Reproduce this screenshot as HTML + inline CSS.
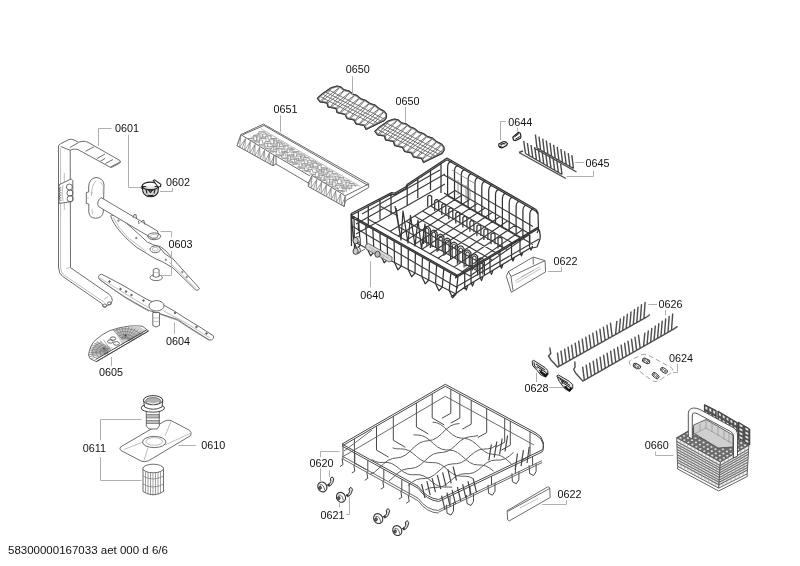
<!DOCTYPE html>
<html><head><meta charset="utf-8"><style>
html,body{margin:0;padding:0;background:#fff;width:800px;height:566px;overflow:hidden}
svg{display:block}
.tx{will-change:transform;opacity:.999}
text{font-family:"Liberation Sans",sans-serif;font-size:10.8px;fill:#111}
.L{fill:none;stroke:#b0b0b0;stroke-width:1}
.o,.o *{fill:none;stroke:#5c5c5c;stroke-width:.9}
.o .f{fill:#fff}
.o .d,.d{stroke:#a4a4a4;stroke-width:.7}
.w path{fill:none;stroke:#3a3a3a;stroke-width:1}
.w2 path{fill:none;stroke:#555;stroke-width:.9}
.wl path{fill:none;stroke:#6a6a6a;stroke-width:.8}
.uw path{fill:none;stroke:#333;stroke-width:1.25;stroke-linejoin:round}
.um path{fill:none;stroke:#3c3c3c;stroke-width:1.15}
.ul path{fill:none;stroke:#777;stroke-width:.8}
.lw path{fill:none;stroke:#4a4a4a;stroke-width:1;stroke-linejoin:round}
.lm path{fill:none;stroke:#5a5a5a;stroke-width:.9}
.ll path{fill:none;stroke:#5e5e5e;stroke-width:1}
.lt path{fill:none;stroke:#444;stroke-width:1.2}
.o .dk{stroke:#4a4a4a;stroke-width:.8}
.o .mk{stroke:#777;stroke-width:.7}
.o .mesh{stroke:#999;stroke-width:.6}
.o .mesh2{stroke:#8a8a8a;stroke-width:.7}
.tn path{fill:none;stroke:#4a4a4a;stroke-width:1.4}
.tn2 path{fill:none;stroke:#505050;stroke-width:1.45;stroke-linecap:round}
.r path{stroke:#454545;stroke-width:1}
</style></head><body>
<svg width="800" height="566" viewBox="0 0 800 566">

<!-- 0601 pipe -->
<g class="o">
<path class="f" d="M58.5,268 L58.5,146 Q59,144.5 60.5,143.8 L69,139.5 Q71.5,138.8 74,140 L78.5,142.2 Q82,141 85.5,141.4 L88,142.3 L120,160.6 Q121,162 119.5,163.3 L111.5,167.4 L110.2,167.2 L78,149.6 Q75,148.9 73,149.2 L70.2,150.2 L70.5,267.7 L109,294.2 Q112.5,297 112.3,300.5 L110.5,304 L107,305.5 Q105.5,308 103,306.5 L101.8,303.5 L62.4,276.2 Q58.7,273.5 58.7,268 Z"/>
<path d="M60.6,146.5 L70.2,150.2 M69.8,147.6 L78.5,142.6 M85.5,151.3 L94,146.8 M97,158.5 L105,154 M100.5,161 L105,158.5 M105.5,163.5 L113,159.5 M110.5,167 L120.5,161.8"/>
<path class="d" d="M60.6,148 L60.6,268 Q60.8,272.5 64,275 L104.5,302.5 M64.3,173 L64.3,210 M70.2,267.5 L66,268.5"/>
<!-- clip on pipe -->
<path class="f" d="M59,184.8 L71.2,179 L72.8,180.5 L72.8,200.5 Q72,202.5 70.1,201.8 L59,203.4 Z"/>
<circle cx="69.4" cy="187" r="3"/><circle cx="69.9" cy="193" r="3"/><circle cx="70.1" cy="198.7" r="3"/><path d="M59.5,188 L59.5,200 M60.8,187 L60.8,201" style="stroke:#555;stroke-width:.8;stroke-dasharray:1.5 1"/><path class="d" d="M63,185 Q61.5,192 63,201"/>
<ellipse cx="104.8" cy="305.6" rx="1.9" ry="1.6"/><ellipse cx="109.4" cy="303.4" rx="1.9" ry="1.6"/><path d="M104,299.5 L108,296.5" class="d"/>
</g>
<!-- 0603 bracket and feed tube -->
<g class="o">
<path class="f" d="M88.6,187 Q89,178.5 96,177.5 Q103,178 104,184.5 L103.3,212 Q102.5,218 95.5,218.3 Q89.3,218 88.8,212 L88.8,204 L86.3,203.5 L86.3,192.5 L88.7,192 Z"/>
<path class="d" d="M91.5,196 Q91.5,184 96.5,180.5 M92,209 L92.5,214.5 M86.3,198 L89,198 M100.5,182 L103.5,186 L103,194 M90.5,193 L93,193"/>
<!-- 0603 upper spray arm blade -->
<path class="f" d="M110.8,215.6 C112,222 120,234 136.8,247.4 L150.6,255.9 Q156,259.5 162,261.5 L172.8,267.8 L195.7,290 Q198.5,291 199.5,288.5 L166,251 Q163,248.5 160,246.5 L153.8,245 L147.4,242.1 Q130,226 122,219.3 Q116,214.5 111.4,215.1 Z"/>
<path class="d" d="M113,217 Q118,228 128,237.5 L146,251.5 M169,262 L196,288.5"/>
<circle cx="118.4" cy="220.6" r=".7"/><circle cx="136.3" cy="238" r=".7"/><circle cx="165.8" cy="259.8" r=".7"/><circle cx="182.3" cy="272" r=".7"/><circle cx="186.8" cy="277" r=".7"/>
<path class="f" d="M101,197.5 L157.5,231 Q160,235 156.5,238 Q152,239.5 149,236.5 L98.5,206.5 Q96,202 101,197.5 Z"/>
<ellipse cx="154.2" cy="236.3" rx="6.5" ry="3.4"/>
<ellipse cx="154.2" cy="236.3" rx="3.7" ry="1.9" class="d"/>
<path d="M133,217.5 Q133.5,213.5 136,214.5 L136.5,218.5 M141,222.5 Q142,219.5 144,220.5 L144.5,224.5 M138.5,221 L139,224"/>
<ellipse cx="155.2" cy="249.3" rx="5.2" ry="3.4" class="f"/>
<ellipse cx="155.2" cy="249.1" rx="3" ry="1.8" class="d"/>
<path d="M160.5,249 Q163,250.5 164,253 L171,258"/>
<!-- nozzle -->
<ellipse cx="156.2" cy="277.6" rx="6.2" ry="3" class="f"/>
<path class="f" d="M153.3,276.5 L153.3,269.5 Q156.2,267 159.1,269.5 L159.1,276.5 Q156.2,278 153.3,276.5 Z"/>
<path class="d" d="M153.3,272 Q156.2,273.5 159.1,272"/>
</g>
<!-- 0602 ring -->
<g class="o">
<path d="M142.3,186.5 L143,192 Q145,196.8 150.5,196.8 Q156.5,196.5 158,192 L158.5,186.5 Z" style="fill:#d8d8d8;stroke:#222;stroke-width:1.1"/>
<path d="M146,189.5 L147,193.5 M155,189.5 L154,193.5 M148.5,190 L152.5,190 L150.5,192.5 Z M147.5,195 Q150.5,196.2 153.5,195" style="stroke:#222;stroke-width:1.1"/>
<ellipse cx="150.4" cy="186" rx="8.2" ry="3.9" style="fill:none;stroke:#222;stroke-width:1.3"/>
<ellipse cx="150.4" cy="185.8" rx="5" ry="1.4" style="fill:#fff;stroke:none"/>
<path d="M153.3,180.5 L154.5,179.8 L160.8,184.2 L160.5,186.5 L158,187 Z" style="fill:#fff;stroke:#222;stroke-width:1.1"/>
<path d="M140.3,187.5 L142.5,186 L143,189 Z" style="fill:#222;stroke:#222"/>
</g>
<!-- 0604 lower spray arm -->
<g class="o">
<path class="f" d="M98.5,276.5 Q99.5,274 101.8,274.3 Q115,281 125,286.5 Q138,294.5 149,300.5 L164,305.3 Q175,311 185,318 Q200,327 213.5,335.8 Q214.5,338.5 211.5,340 L209,339.8 Q193,330 177.5,319.5 L159.5,313.5 L149,310.5 Q137,304 125,297 Q110,287.5 99,279 Z"/>
<path class="d" d="M100,278 Q112,285.5 125,293.5 Q137,301 148.5,307.5 M163,310.5 Q186,322 210,338"/>
<path d="M99.5,279.5 Q112,288.5 125,297.5 Q137,305 149,311.3 M160,314.3 L177.5,320.3 Q193,331 209.5,340.5" style="stroke:#777;stroke-width:.7"/>
<ellipse cx="156.5" cy="305.8" rx="7.6" ry="5.2" class="f"/>
<circle cx="109.5" cy="281.5" r=".8" style="fill:#555"/><circle cx="120.5" cy="289" r=".8" style="fill:#555"/><circle cx="126" cy="291.5" r=".8" style="fill:#555"/><circle cx="131.5" cy="295" r=".8" style="fill:#555"/><circle cx="143.5" cy="300.5" r=".8" style="fill:#555"/><circle cx="175" cy="313" r=".8" style="fill:#555"/><circle cx="196.5" cy="327" r=".8" style="fill:#555"/><circle cx="206.5" cy="333.5" r=".8" style="fill:#555"/>
<path class="f" d="M152.8,312.5 L152.8,325.5 Q156,328.5 159.5,325.5 L159.5,312.5 Z"/>
<path class="d" d="M152.8,317.5 Q156,319 159.5,317.5 M152.8,321 Q156,322.5 159.5,321"/>
</g>
<!-- 0605 filter plate -->
<g class="o">
<path class="f" d="M88.5,355 Q90,345 95.5,340 Q102,334 110,330.5 Q120,327 130,326 Q140,325.5 143,326.6 L148.5,331 L96.4,361.6 L90.2,358.8 Z"/>
<path d="M91,356 Q92,346 97,341 L113,348 Z M114,330 Q125,326.5 139,326.5 L146,330.5 L122,344.5 Z" style="fill:#cfcfcf;stroke:none"/>
<clipPath id="c605"><path d="M88.5,355 Q90,345 95.5,340 Q102,334 110,330.5 Q120,327 130,326 Q140,325.5 143,326.6 L148.5,331 L96.4,361.6 L90.2,358.8 Z"/></clipPath><path clip-path="url(#c605)" d="M108.5,353.1 L91.2,358.6 M108.3,352.8 L89.6,356.7 M108.1,352.5 L88.5,354.7 M108.0,352.1 L88.0,352.7 M108.0,351.8 L88.1,350.6 M108.1,351.4 L88.8,348.6 M108.3,351.1 L90.1,346.6 M108.6,350.8 L91.9,344.8 M109.0,350.5 L94.2,343.2 M109.5,350.3 L96.9,341.7 M110.0,350.1 L100.0,340.6 M110.6,349.9 L103.4,339.7 M105.1,354.2 L104.5,353.5 L104.1,352.8 L104.0,352.0 L104.1,351.2 L104.5,350.5 L105.1,349.8 L105.9,349.2 L106.9,348.6 L108.0,348.2 M101.6,355.3 L100.7,354.3 L100.2,353.1 L100.0,352.0 L100.2,350.9 L100.7,349.7 L101.6,348.7 L102.8,347.8 L104.3,346.9 L106.0,346.3 M98.1,356.4 L97.0,355.0 L96.2,353.5 L96.0,352.0 L96.2,350.5 L97.0,349.0 L98.1,347.6 L99.7,346.3 L101.7,345.3 L104.0,344.4 M94.7,357.5 L93.2,355.8 L92.3,353.9 L92.0,352.0 L92.3,350.1 L93.2,348.2 L94.7,346.5 L96.7,344.9 L99.1,343.6 L102.0,342.5 M122.7,339.7 L112.4,329.4 M123.2,339.5 L115.4,328.2 M123.8,339.3 L118.6,327.3 M124.4,339.2 L121.9,326.7 M125.1,339.2 L125.4,326.6 M125.7,339.2 L128.8,326.8 M126.3,339.4 L132.2,327.4 M126.9,339.5 L135.3,328.4 M127.4,339.8 L138.2,329.7 M127.9,340.1 L140.8,331.3 M128.3,340.4 L143.0,333.2 M128.6,340.8 L144.8,335.2 M121.0,338.0 L122.0,337.6 L123.2,337.3 L124.4,337.1 L125.6,337.1 L126.8,337.3 L128.0,337.6 L129.0,338.0 L129.9,338.5 L130.7,339.2 M118.7,335.7 L120.4,335.0 L122.2,334.6 L124.0,334.3 L126.0,334.3 L127.8,334.6 L129.6,335.0 L131.3,335.7 L132.8,336.6 L134.0,337.6 M116.4,333.4 L118.7,332.5 L121.1,331.9 L123.7,331.5 L126.3,331.5 L128.9,331.9 L131.3,332.5 L133.6,333.4 L135.6,334.6 L137.3,336.0 M114.1,331.1 L117.0,329.9 L120.1,329.2 L123.3,328.8 L126.7,328.8 L129.9,329.2 L133.0,329.9 L135.9,331.1 L138.4,332.6 L140.6,334.4" style="stroke:#6a6a6a;stroke-width:.6"/>
<path d="M96.4,361.6 L148.5,331 M95.5,359.5 L146.8,329.8" style="stroke:#444;stroke-width:1"/>
<ellipse cx="113" cy="338.6" rx="2.8" ry="1.7"/><ellipse cx="110.3" cy="341.5" rx="2.8" ry="1.7"/><ellipse cx="116.4" cy="343.4" rx="3" ry="1.8"/>
<circle cx="104" cy="348.5" r=".8" style="fill:#333"/><circle cx="125.5" cy="335.5" r=".8" style="fill:#333"/>
</g>
<g class="lw"><path d="M418.0,486.2 L342.0,444.0 L445.3,384.3 L536.0,433.0 L541.0,437.0 L543.5,443.0 L543.0,448.5 L542.0,450.0 L438.7,499.5 Q427.0,498.5 418.0,486.2 M418.0,488.2 L342.0,446.0 L445.3,386.3 L536.0,435.0 L541.0,439.0 L543.5,445.0 L543.0,450.5 L542.0,452.0 L438.7,501.5 Q427.0,500.5 418.0,488.2 M354.4,438.8 L354.4,462.8 L366.4,469.8 M376.5,426.1 L376.5,450.1 L388.5,457.1 M393.3,416.3 L393.3,440.3 L405.3,447.3 M416.4,403.0 L416.4,427.0 L428.4,434.0 M432.2,393.9 L432.2,417.9 L444.2,424.9 M450.8,389.3 L450.8,413.3 L441.8,418.3 M459.8,394.1 L459.8,418.1 L450.8,423.1 M471.2,400.2 L471.2,424.2 L462.2,429.2 M486.7,408.6 L486.7,432.6 L477.7,437.6 M504.7,418.2 L504.7,442.2 L495.7,447.2 M510.3,421.2 L510.3,445.2 L501.3,450.2 M530.0,431.8 L530.0,455.8 L521.0,460.8 M343.0,446.6 L343.0,458.6 M342.0,458.6 L343.0,464.6 L340.0,466.6 M354.8,453.1 L354.8,465.1 M353.8,465.1 L354.8,471.1 L351.8,473.1 M367.8,460.3 L367.8,472.3 M366.8,472.3 L367.8,478.3 L364.8,480.3 M383.8,469.2 L383.8,481.2 M382.8,481.2 L383.8,487.2 L380.8,489.2 M401.8,479.2 L401.8,491.2 M400.8,491.2 L401.8,497.2 L398.8,499.2 M409.2,483.3 L409.2,495.3 M408.2,495.3 L409.2,501.3 L406.2,503.3 M532.6,456.5 L532.6,465.5 M529.1,465.1 L529.6,473.5 L533.6,475.5 L536.1,471.5 L536.1,463.1 M515.4,464.7 L515.4,473.7 M511.9,473.3 L512.4,481.7 L516.4,483.7 L518.9,479.7 L518.9,471.3 M491.5,476.2 L491.5,485.2 M488.0,484.8 L488.5,493.2 L492.5,495.2 L495.0,491.2 L495.0,482.8 M470.0,486.5 L470.0,495.5 M466.5,495.1 L467.0,503.5 L471.0,505.5 L473.5,501.5 L473.5,493.1 M450.0,496.1 L450.0,505.1 M446.5,504.7 L447.0,513.1 L451.0,515.1 L453.5,511.1 L453.5,502.7"/></g>
<g class="lm"><path d="M344.0,456.0 L445.3,396.3 L534.0,445.0 M342.0,456.0 L418.0,498.2 Q427.0,510.5 438.7,510.5 M342.0,458.5 L418.0,500.7 Q427.0,513.0 438.7,513.0 M542.0,460.6 L438.7,510.1 M542.0,462.6 L438.7,512.1 M344.0,451.0 L372.0,430.0"/></g>
<g class="ll"><path d="M370.1,474.3 L374.5,472.1 L379.0,468.2 L383.5,463.9 L387.9,460.4 L392.4,458.6 L396.9,457.9 L401.3,457.1 L405.8,454.8 L410.3,451.0 L414.7,446.6 L419.2,443.2 L423.7,441.4 L428.1,440.7 L432.6,439.9 L437.1,437.6 L441.5,433.7 L446.0,429.4 L450.5,425.9 L454.9,424.2 L459.4,423.5 M389.0,481.0 L393.4,477.2 L397.9,473.0 L402.3,470.1 L406.8,468.8 L411.2,468.4 L415.7,467.5 L420.1,465.0 L424.6,461.1 L429.0,457.0 L433.5,454.1 L438.0,452.8 L442.4,452.4 L446.9,451.5 L451.3,449.0 L455.8,445.1 L460.2,441.0 L464.7,438.1 L469.1,436.8 L473.6,436.4 L478.0,435.5 M407.9,485.7 L412.3,481.9 L416.8,479.5 L421.2,478.7 L425.6,478.5 L430.1,477.4 L434.5,474.8 L439.0,470.9 L443.4,467.1 L447.8,464.7 L452.3,463.9 L456.7,463.7 L461.2,462.6 L465.6,459.9 L470.0,456.0 L474.5,452.3 L478.9,449.9 L483.4,449.1 L487.8,448.9 L492.2,447.8 L496.7,445.1 M425.1,490.0 L429.5,488.0 L433.9,487.4 L438.3,487.3 L442.8,486.3 L447.2,483.6 L451.6,479.8 L456.1,476.3 L460.5,474.3 L464.9,473.7 L469.3,473.7 L473.8,472.6 L478.2,469.9 L482.6,466.1 L487.1,462.6 L491.5,460.6 L495.9,460.1 L500.3,460.0 L504.8,458.9 L509.2,456.1 L513.6,452.3 M371.6,459.4 L375.7,461.6 L379.7,462.5 L383.7,462.4 L387.8,462.5 L391.8,463.5 L395.8,465.9 L399.8,469.1 L403.9,472.1 L407.9,474.1 L411.9,474.8 L416.0,474.7 L420.0,474.8 L424.0,476.1 L428.0,478.6 L432.1,481.9 L436.1,484.8 L440.1,486.6 L444.2,487.1 L448.2,487.0 L452.2,487.2 M392.6,447.9 L396.6,448.8 L400.6,448.9 L404.6,449.2 L408.7,450.5 L412.7,453.2 L416.7,456.6 L420.7,459.7 L424.7,461.8 L428.7,462.5 L432.8,462.6 L436.8,462.9 L440.8,464.5 L444.8,467.3 L448.8,470.8 L452.8,473.8 L456.9,475.6 L460.9,476.2 L464.9,476.2 L468.9,476.7 L472.9,478.5 M413.5,434.8 L417.5,435.0 L421.6,435.5 L425.6,437.2 L429.6,440.1 L433.6,443.7 L437.6,447.0 L441.6,449.1 L445.6,449.9 L449.6,450.1 L453.6,450.7 L457.6,452.6 L461.6,455.7 L465.6,459.3 L469.6,462.4 L473.6,464.3 L477.6,464.9 L481.6,465.1 L485.6,465.9 L489.6,468.0 L493.6,471.2 M432.6,422.1 L436.6,422.7 L440.6,424.5 L444.6,427.6 L448.6,431.4 L452.6,434.8 L456.5,437.0 L460.5,438.0 L464.5,438.4 L468.5,439.2 L472.5,441.2 L476.5,444.4 L480.5,448.2 L484.5,451.5 L488.5,453.5 L492.5,454.3 L496.5,454.7 L500.4,455.6 L504.4,457.8 L508.4,461.2 L512.4,465.0"/></g>
<g class="lt"><path d="M425.0,498.0 L421.6,484.0 M430.2,495.1 L426.9,481.1 M435.5,492.2 L432.1,478.2 M440.8,489.2 L437.4,475.2 M446.0,486.3 L442.6,472.3 M451.2,483.4 L447.9,469.4 M456.5,480.5 L453.1,466.5 M445.0,509.6 L441.6,495.6 M450.2,506.7 L446.9,492.7 M455.5,503.8 L452.1,489.8 M460.8,501.0 L457.4,487.0 M466.0,498.1 L462.6,484.1 M471.2,495.2 L467.9,481.2 M476.5,492.3 L473.1,478.3 M488.8,460.5 L491.4,444.5 M494.2,457.5 L496.8,441.5 M499.6,454.5 L502.2,438.5 M505.0,451.5 L507.6,435.5 M515.3,469.5 L517.5,453.5 M521.1,466.2 L523.4,450.2 M527.0,463.0 L529.2,447.0"/></g>
<g class="uw"><path d="M350.8,213.8 L391.6,192.6 L394.5,193.2 L405.8,186.8 L407.4,184.2 L447.0,158.0 M350.8,215.5 L391.6,194.3 L394.5,194.9 L405.8,188.5 L407.4,185.9 L447.0,159.7 M447.0,158.0 L536.0,209.5 L538.0,212.5 M447.0,159.7 L536.0,211.2 L538.0,214.2 M538.0,212.5 L538.5,230.0 L537.0,233.0 M358.4,210.9 L358.4,230.9 M368.3,205.7 L368.3,225.7 M380.0,199.6 L380.0,219.6 M391.0,193.9 L391.0,213.9 M407.2,185.5 L407.2,205.5 M417.8,178.3 L417.8,198.3 M430.5,169.9 L430.5,189.9 M441.0,163.0 L441.0,183.0 M441.0,161.5 L441.0,193.0 M451.1,161.4 Q447.6,162.4 447.6,167.4 L447.6,195.4 M458.0,165.3 Q454.5,166.3 454.5,171.3 L454.5,199.3 M464.8,169.3 Q461.3,170.3 461.3,175.3 L461.3,203.3 M471.6,173.3 Q468.1,174.3 468.1,179.3 L468.1,207.3 M478.5,177.2 Q475.0,178.2 475.0,183.2 L475.0,211.2 M485.3,181.2 Q481.8,182.2 481.8,187.2 L481.8,215.2 M492.2,185.1 Q488.7,186.1 488.7,191.1 L488.7,219.1 M499.0,189.1 Q495.5,190.1 495.5,195.1 L495.5,223.1 M505.9,193.1 Q502.4,194.1 502.4,199.1 L502.4,227.1 M512.7,197.0 Q509.2,198.0 509.2,203.0 L509.2,231.0 M519.6,201.0 Q516.1,202.0 516.1,207.0 L516.1,235.0 M526.4,205.0 Q522.9,206.0 522.9,211.0 L522.9,239.0 M533.3,208.9 Q529.8,209.9 529.8,214.9 L529.8,242.9 M351.5,215.5 L458.0,275.5 M351.5,217.1 L458.0,277.1 M351.5,216.5 L353.5,241.5 L356.9,248.8 L360.3,245.0 L358.6,220.5 M365.7,224.5 L367.2,248.5 L370.6,255.8 L374.0,252.0 L372.8,228.5 M379.9,232.5 L380.8,255.5 L384.2,262.8 L387.7,259.0 L387.0,236.5 M394.1,240.5 L394.5,262.5 L397.9,269.8 L401.3,266.0 L401.2,244.5 M408.3,248.5 L408.2,269.5 L411.6,276.8 L415.0,273.0 L415.4,252.5 M422.5,256.5 L421.8,276.5 L425.2,283.8 L428.7,280.0 L429.6,260.5 M436.7,264.5 L435.5,283.5 L438.9,290.8 L442.3,287.0 L443.8,268.5 M450.9,272.5 L449.2,290.5 L452.6,297.8 L456.0,294.0 L458.0,276.5 M351.0,214.0 L351.5,246.0 M354.0,216.0 L354.5,248.0 M455.0,276.5 L474.2,265.5 L537.8,227.4 M455.0,278.1 L474.2,267.1 L537.8,229.0 M451.0,297.0 L458.0,292.0 L465.0,287.0 L490.0,272.0 L511.5,259.0 L529.5,248.5 L537.0,247.0 M464.7,271.7 L464.7,286.5 L466.2,290.0 L467.7,286.0 M471.0,268.0 L471.0,282.6 L472.5,286.1 L474.0,282.1 M480.0,262.7 L480.0,277.1 L481.5,280.6 L483.0,276.6 M490.0,256.7 L490.0,270.9 L491.5,274.4 L493.0,270.4 M500.0,250.8 L500.0,264.7 L501.5,268.2 L503.0,264.2 M511.5,244.0 L511.5,257.6 L513.0,261.1 L514.5,257.1 M520.0,239.0 L520.0,252.4 L521.5,255.9 L523.0,251.9 M529.5,233.3 L529.5,246.5 L531.0,250.0 L532.5,246.0 M537.8,227.4 Q541.0,232.0 540.0,239.0 L537.0,247.0 M427.7,206.7 L427.7,196.7 Q429.7,194.2 431.7,196.7 L431.7,206.7 M434.7,210.9 L434.7,200.9 Q436.7,198.4 438.7,200.9 L438.7,210.9 M441.8,215.1 L441.8,205.1 Q443.8,202.6 445.8,205.1 L445.8,215.1 M448.8,219.2 L448.8,209.2 Q450.8,206.7 452.8,209.2 L452.8,219.2 M455.8,223.4 L455.8,213.4 Q457.8,210.9 459.8,213.4 L459.8,223.4 M462.9,227.6 L462.9,217.6 Q464.9,215.1 466.9,217.6 L466.9,227.6 M469.9,231.8 L469.9,221.8 Q471.9,219.3 473.9,221.8 L473.9,231.8 M476.9,236.0 L476.9,226.0 Q478.9,223.5 480.9,226.0 L480.9,236.0 M483.9,240.1 L483.9,230.1 Q485.9,227.6 487.9,230.1 L487.9,240.1 M491.0,244.3 L491.0,234.3 Q493.0,231.8 495.0,234.3 L495.0,244.3 M498.0,248.5 L498.0,238.5 Q500.0,236.0 502.0,238.5 L502.0,248.5 M423.6,244.0 L423.6,229.0 Q427.0,223.5 430.4,229.0 L430.4,244.0 M430.4,247.9 L430.4,232.9 Q433.8,227.4 437.1,232.9 L437.1,247.9 M437.1,251.9 L437.1,236.9 Q440.5,231.4 443.9,236.9 L443.9,251.9 M443.9,255.8 L443.9,240.8 Q447.2,235.3 450.6,240.8 L450.6,255.8 M450.6,259.8 L450.6,244.8 Q454.0,239.2 457.4,244.8 L457.4,259.8 M457.4,263.7 L457.4,248.7 Q460.8,243.2 464.1,248.7 L464.1,263.7 M464.1,267.6 L464.1,252.6 Q467.5,247.1 470.9,252.6 L470.9,267.6 M470.9,271.6 L470.9,256.6 Q474.2,251.1 477.6,256.6 L477.6,271.6 M477.6,275.5 L477.6,260.5 Q481.0,255.0 484.4,260.5 L484.4,275.5 M395.0,206.0 L401.0,240.0 L403.0,211.0 L408.0,243.0 L410.5,215.5 L415.0,246.0 L418.0,220.0 L421.5,249.0 L425.0,224.0 L427.0,246.0 M396.0,208.0 L401.0,240.0"/></g>
<g class="um"><path d="M356.0,234.0 L391.6,214.0 L407.4,205.4 L445.0,184.0 M356.0,224.0 L391.6,204.0 L407.4,195.4 L445.0,174.0 M444.0,175.0 L533.0,226.5 M444.0,193.0 L533.0,244.5 M352.0,226.0 L458.0,288.0 M353.5,241.5 L456.0,294.0 M456.0,287.0 L539.0,239.0 M368,219 L392,232.5 M380,206 L398,216 M362,214 L440,170 M390.0,231.5 L470.0,276.0 M398.1,226.4 L477.5,270.8 M406.2,221.2 L485.0,265.5 M414.4,216.1 L492.5,260.2 M422.5,211.0 L500.0,255.0 M430.6,205.9 L507.5,249.8 M438.8,200.8 L515.0,244.5 M446.9,195.6 L522.5,239.2 M455.0,190.5 L530.0,234.0 M390.0,231.5 L455.0,190.5 M398.0,235.9 L462.5,194.8 M406.0,240.4 L470.0,199.2 M414.0,244.8 L477.5,203.6 M422.0,249.3 L485.0,207.9 M430.0,253.8 L492.5,212.2 M438.0,258.2 L500.0,216.6 M446.0,262.6 L507.5,220.9 M454.0,267.1 L515.0,225.3 M462.0,271.6 L522.5,229.7 M470.0,276.0 L530.0,234.0 M425.2,243.0 L425.2,230.0 Q427.0,226.5 428.8,230.0 L428.8,243.0 M431.9,246.9 L431.9,233.9 Q433.8,230.4 435.6,233.9 L435.6,246.9 M438.7,250.9 L438.7,237.9 Q440.5,234.4 442.3,237.9 L442.3,250.9 M445.4,254.8 L445.4,241.8 Q447.2,238.3 449.1,241.8 L449.1,254.8 M452.2,258.8 L452.2,245.8 Q454.0,242.2 455.8,245.8 L455.8,258.8 M458.9,262.7 L458.9,249.7 Q460.8,246.2 462.6,249.7 L462.6,262.7 M465.7,266.6 L465.7,253.6 Q467.5,250.1 469.3,253.6 L469.3,266.6 M472.4,270.6 L472.4,257.6 Q474.2,254.1 476.1,257.6 L476.1,270.6 M479.2,274.5 L479.2,261.5 Q481.0,258.0 482.8,261.5 L482.8,274.5"/></g>
<g class="ul"><path d="M448,176 L470,189 L470,200 M452,170 L474,183 M458,180 L458,195 M466,185 L466,200"/></g>
<g class="o">
<path class="f" d="M365.5,245 L368.5,243.5 L392,257 L392,260.5 L389,262 L366,249 Z" style="fill:#d8d8d8"/>
<path class="d" d="M369,247 L389,258.5 M371,250 L384,257.5"/>
<ellipse cx="377.5" cy="254.3" rx="2.6" ry="3" style="fill:#bbb;stroke:#333"/>
<ellipse cx="357.5" cy="239.8" rx="2.9" ry="3.3" class="f" style="stroke:#444"/><ellipse cx="355.6" cy="240.6" rx="2.6" ry="3.2" style="fill:#ccc;stroke:#333"/>
<ellipse cx="357.5" cy="250.4" rx="2.9" ry="3.3" class="f" style="stroke:#444"/><ellipse cx="355.6" cy="251.2" rx="2.6" ry="3.2" style="fill:#ccc;stroke:#333"/>
<path d="M357,253.5 L365,249" />
</g>
<!-- 0651 tray -->
<g class="o">
<path class="f" d="M240.8,134.6 L263.5,124.1 L368.7,183.9 L368.7,187.5 L345.2,201 L344.2,206.5 L308.3,186.5 L308.3,183 L276,164 L272.9,165.7 L237,145.75 Z"/>
<path d="M242.5,134.8 L264,125.5 L367.5,185.2"/>
<path d="M240.8,134.6 L273.9,155 L272.9,165.7 M273.9,155 L276,156 L276,164 M276,156 L310,176 M312.1,175.4 L345.2,195.8 L344.2,206.5 M345.2,195.8 L368.7,184 M312.1,175.4 L308.3,183"/>
<path class="mk" d="M240.8,135.8 L237.0,145.8 M240.8,135.8 L239.6,147.2 L245.5,138.7 M245.5,138.7 L242.1,148.6 M245.5,138.7 L244.7,150.0 L250.3,141.6 M250.3,141.6 L247.3,151.4 M250.3,141.6 L249.8,152.9 L255.0,144.5 M255.0,144.5 L252.4,154.3 M255.0,144.5 L254.9,155.7 L259.7,147.5 M259.7,147.5 L257.5,157.2 M259.7,147.5 L260.1,158.6 L264.4,150.4 M264.4,150.4 L262.6,160.0 M264.4,150.4 L265.2,161.4 L269.2,153.3 M269.2,153.3 L267.8,162.8 M269.2,153.3 L270.3,164.3 L273.9,156.2 M273.9,156.2 L272.9,165.7 M312.1,176.6 L308.3,186.5 M312.1,176.6 L310.9,187.9 L316.8,179.5 M316.8,179.5 L313.4,189.4 M316.8,179.5 L316.0,190.8 L321.6,182.4 M321.6,182.4 L318.6,192.2 M321.6,182.4 L321.1,193.6 L326.3,185.3 M326.3,185.3 L323.7,195.1 M326.3,185.3 L326.2,196.5 L331.0,188.3 M331.0,188.3 L328.8,197.9 M331.0,188.3 L331.4,199.4 L335.7,191.2 M335.7,191.2 L333.9,200.8 M335.7,191.2 L336.5,202.2 L340.5,194.1 M340.5,194.1 L339.1,203.6 M340.5,194.1 L341.6,205.1 L345.2,197.0 M345.2,197.0 L344.2,206.5"/>
</g>
<!-- 0644 clips -->
<g class="o">
<path d="M512.8,137.2 L518.5,132.3 L520.3,133.3 L521,136.5 L520.3,138.3 L515.5,140.5 L513.5,140 Z" style="fill:#fff;stroke:#222;stroke-width:1.2"/>
<path d="M514.5,137 L519,133.5 M515.5,139 L520,136.5" style="stroke:#222;stroke-width:1"/>
<path d="M498.8,144 L502.5,142 Q505.5,141 507.5,143.5 L506.5,145.5 L502,147.8 Q499.5,147.8 498.8,146 Z" style="fill:#fff;stroke:#222;stroke-width:1.2"/>
<path d="M500.5,145 Q503,143 505.5,144 M500,147 L501.5,146" style="stroke:#222;stroke-width:1.1"/>
</g>
<!-- 0622 top handle -->
<g class="o">
<path class="f" d="M508.5,271.5 L533.1,257.1 L545,260.6 L545.6,271.9 L511.3,292.3 L506.3,276.3 Z"/>
<path d="M508.5,271.5 L511,276.5 L545,260.6 M511,276.5 L513,290.5 M533.1,257.1 L533.3,264.5"/>
<path class="d" d="M515,281 L540,266.5 M516,283 L541,268.5 M521,277 L534,270"/>
</g>
<!-- 0622 bottom bar -->
<g class="o">
<path class="f" d="M507.2,510.6 L547.7,486.8 L549.8,487.9 L550.1,497.5 L509.3,520.9 L507.6,519.8 Z"/>
<path d="M507.6,511.5 L549.6,488.5"/>
<path class="d" d="M520,508 L538,498.5"/>
</g>
<!-- 0624 plate -->
<g class="o">
<path d="M629.5,364 Q628.5,361 631,359.8 L641.5,355 Q645,353.5 648,355 L671,367.5 Q674,369.5 672.5,372 L659,380.5 Q655.5,382.5 652,380.5 Z" style="stroke:#888;stroke-width:.8;stroke-dasharray:5 3"/>
<g transform="rotate(28 646.1 360.9)"><rect x="642.3" y="358.9" width="7.6" height="4" rx="2" style="fill:#fff;stroke:#333;stroke-width:.9"/><circle style="fill:#fff;stroke:#333;stroke-width:.8" cx="644.3" cy="360.9" r=".9"/><circle style="fill:#fff;stroke:#333;stroke-width:.8" cx="647.6" cy="360.9" r=".9"/></g>
<g transform="rotate(28 636.9 366.1)"><rect x="633.1" y="364.1" width="7.6" height="4" rx="2" style="fill:#fff;stroke:#333;stroke-width:.9"/><circle style="fill:#fff;stroke:#333;stroke-width:.8" cx="635.1" cy="366.1" r=".9"/><circle style="fill:#fff;stroke:#333;stroke-width:.8" cx="638.4" cy="366.1" r=".9"/></g>
<g transform="rotate(35 664 370.4)"><rect x="660.2" y="368.4" width="7.6" height="4" rx="2" style="fill:#fff;stroke:#333;stroke-width:.9"/><circle style="fill:#fff;stroke:#333;stroke-width:.8" cx="662.2" cy="370.4" r=".9"/><circle style="fill:#fff;stroke:#333;stroke-width:.8" cx="665.5" cy="370.4" r=".9"/></g>
<g transform="rotate(40 655.6 375.6)"><rect x="651.8" y="373.6" width="7.6" height="4" rx="2" style="fill:#fff;stroke:#333;stroke-width:.9"/><circle style="fill:#fff;stroke:#333;stroke-width:.8" cx="653.8" cy="375.6" r=".9"/><circle style="fill:#fff;stroke:#333;stroke-width:.8" cx="657.1" cy="375.6" r=".9"/></g>
</g>
<!-- 0628 clips -->
<g class="o">
<path d="M532.2,361.1 L533.7,360.3 L544.9,367.5 L547.7,370.3 L548,374.3 L545.7,377 L540.9,375 L536.9,370.3 L532.6,365.5 Z" style="fill:#e0e0e0;stroke:#333;stroke-width:1"/>
<path d="M534,362.5 L534.5,366 L537,368.5 M536,364 L545,370 M537,366.5 L546,372.5 M539,370 L546.5,375 M542,368.5 L541,372" style="stroke:#222;stroke-width:1"/>
<path d="M540,371.5 L545.5,376 L547.5,373" style="stroke:#111;stroke-width:2"/>
<path d="M556.8,375.8 L558.4,375 L569.5,381.4 L572.7,384.6 L572.7,388.6 L569.5,391.3 L564.7,388.6 L559.2,381.4 Z" style="fill:#e0e0e0;stroke:#333;stroke-width:1"/>
<path d="M558,377 L568,383 M559.5,379 L570,385.5 M561,381.5 L571,388 M563,380 L562,384 M566,386 L568,390.5" style="stroke:#222;stroke-width:1"/>
<path d="M564.5,386.5 L569.5,390.5 L571.5,387.5" style="stroke:#111;stroke-width:2"/>
</g>
<!-- 0610 filter plate -->
<g class="o">
<path class="f" d="M120.5,447 L164.5,421.2 Q168,419.5 171,420.5 L189.5,430.3 Q192,432 190.8,435.5 L148.5,460.8 Q144.5,462.5 141,461 L121,450.5 Q119,449 120.5,447 Z"/>
<ellipse cx="154.2" cy="442" rx="11.7" ry="5.6" class="f"/>
<ellipse cx="154.2" cy="441.5" rx="8.3" ry="3.8" class="d"/>
<path class="d" d="M124,449.5 L143,442 M171,421.5 L165,436 M190,433.5 L165,445 M144,460.5 L148,447.5"/>
</g>
<!-- 0611 filters -->
<g class="o">
<path class="f" d="M146.3,411 L146.3,426 L149,429 L157,429 L159.3,426 L159.3,411 Z"/>
<path d="M146.5,414.5 L159,414.5 L159,418 L146.5,418 Z M146.5,420.5 L159,420.5 L159,423.5 L146.5,423.5 Z" style="fill:#bbb;stroke:#555;stroke-width:.6"/>
<ellipse cx="152.8" cy="408" rx="11.7" ry="4.2" class="f" style="stroke:#333"/>
<path class="f" d="M143.6,400 L144.5,407 Q153,411.5 162,407 L162.8,400 Z" style="stroke:#333"/>
<ellipse cx="153.1" cy="400.2" rx="9.6" ry="4.6" style="fill:#fff;stroke:#333;stroke-width:1"/>
<ellipse cx="153.1" cy="400.8" rx="7.5" ry="3.3" style="fill:#b0b0b0;stroke:#555;stroke-width:.7"/>
<path d="M147.5,402.5 Q153,405.5 159,402.5" style="stroke:#fff;stroke-width:1"/>
<path class="f" d="M143,468.5 L143,491.5 Q153,498 163.5,491.5 L163.5,468.5 Z"/>
<ellipse cx="153.2" cy="468.5" rx="10.3" ry="4.3" class="f"/>
<path class="mk" d="M145.5,471 L145.5,493 M148,472 L148,494.5 M150.5,472.5 L150.5,495.3 M153,472.8 L153,495.5 M155.5,472.5 L155.5,495.3 M158,472 L158,494.5 M160.5,471 L160.5,493.5 M143,476 Q153,482 163.5,476 M143,484 Q153,490 163.5,484"/>
</g>
<!-- wheels 0620/0621 -->
<g class="o">
<ellipse cx="322.3" cy="486.9" rx="4.4" ry="5.1" transform="rotate(-28 322.3 486.9)" class="f" style="stroke:#333;stroke-width:1.1"/>
<path d="M319.7,484.7 Q323.8,483.9 324.7,490.1" style="stroke:#555;stroke-width:.9"/>
<ellipse cx="320.1" cy="487.7" rx="1.3" ry="1.6" style="fill:#666;stroke:#333"/>
<path d="M327.3,484.9 L329.8,483.4 L330.8,481.4 L330.3,478.4 L332.3,476.9 L333.8,478.9 L332.8,482.4 L331.3,484.9 L328.8,486.4 Z" style="fill:#e0e0e0;stroke:#333;stroke-width:1"/>
<circle cx="328.8" cy="484.9" r="1.1" style="fill:#333;stroke:none"/>
<ellipse cx="341" cy="497.3" rx="4.4" ry="5.1" transform="rotate(-28 341 497.3)" class="f" style="stroke:#333;stroke-width:1.1"/>
<path d="M338.4,495.1 Q342.5,494.3 343.4,500.5" style="stroke:#555;stroke-width:.9"/>
<ellipse cx="338.8" cy="498.1" rx="1.3" ry="1.6" style="fill:#666;stroke:#333"/>
<path d="M346.0,495.3 L348.5,493.8 L349.5,491.8 L349.0,488.8 L351.0,487.3 L352.5,489.3 L351.5,492.8 L350.0,495.3 L347.5,496.8 Z" style="fill:#e0e0e0;stroke:#333;stroke-width:1"/>
<circle cx="347.5" cy="495.3" r="1.1" style="fill:#333;stroke:none"/>
<ellipse cx="378.2" cy="518.6" rx="4.4" ry="5.1" transform="rotate(-28 378.2 518.6)" class="f" style="stroke:#333;stroke-width:1.1"/>
<path d="M375.6,516.4 Q379.7,515.6 380.6,521.8" style="stroke:#555;stroke-width:.9"/>
<ellipse cx="376.0" cy="519.4" rx="1.3" ry="1.6" style="fill:#666;stroke:#333"/>
<path d="M383.2,516.6 L385.7,515.1 L386.7,513.1 L386.2,510.1 L388.2,508.6 L389.7,510.6 L388.7,514.1 L387.2,516.6 L384.7,518.1 Z" style="fill:#e0e0e0;stroke:#333;stroke-width:1"/>
<circle cx="384.7" cy="516.6" r="1.1" style="fill:#333;stroke:none"/>
<ellipse cx="397.3" cy="530.6" rx="4.4" ry="5.1" transform="rotate(-28 397.3 530.6)" class="f" style="stroke:#333;stroke-width:1.1"/>
<path d="M394.7,528.4 Q398.8,527.6 399.7,533.8" style="stroke:#555;stroke-width:.9"/>
<ellipse cx="395.1" cy="531.4" rx="1.3" ry="1.6" style="fill:#666;stroke:#333"/>
<path d="M402.3,528.6 L404.8,527.1 L405.8,525.1 L405.3,522.1 L407.3,520.6 L408.8,522.6 L407.8,526.1 L406.3,528.6 L403.8,530.1 Z" style="fill:#e0e0e0;stroke:#333;stroke-width:1"/>
<circle cx="403.8" cy="528.6" r="1.1" style="fill:#333;stroke:none"/>
</g>
<g class="o"><path class="mesh2" d="M248.0,138.6 L253.6,138.7 L254.1,141.6 L259.1,142.0 L259.5,145.0 L265.1,145.0 L264.8,148.4 L270.9,148.1 L270.3,151.6 L276.4,151.4 L275.9,154.9 L281.5,155.0 L281.7,158.0 L288.1,157.6 L287.1,161.4 L292.8,161.3 L293.2,164.4 L299.5,164.0 L298.7,167.6 L304.3,167.7 L304.9,170.6 L309.4,171.2 L310.3,173.9 L315.3,174.3 L315.1,177.6 L320.6,177.7 L320.7,180.9 L327.2,180.3 L326.2,184.1 L332.5,183.8 L332.3,187.1 L337.8,187.2 L337.8,190.4 L342.9,190.7 L343.0,193.8 M250.7,137.1 L257.3,136.6 L256.7,140.2 L262.3,140.1 L262.5,143.3 L268.1,143.3 L267.7,146.8 L274.2,146.2 L273.8,149.7 L279.0,149.9 L279.2,153.0 L285.0,153.0 L285.3,156.0 L290.9,156.0 L290.0,159.7 L296.8,159.1 L295.3,163.1 L301.6,162.8 L301.9,165.9 L306.8,166.3 L307.1,169.3 L312.2,169.6 L312.9,172.4 L318.9,172.2 L318.4,175.8 L324.6,175.4 L323.6,179.2 L330.0,178.8 L329.6,182.2 L335.4,182.1 L335.0,185.6 L341.4,185.2 L341.3,188.4 L346.4,188.7 L346.4,191.9 M253.4,135.6 L260.2,134.9 L259.9,138.3 L266.2,138.0 L265.7,141.4 L270.8,141.8 L270.7,145.0 L276.9,144.7 L275.7,148.6 L282.2,148.1 L281.5,151.7 L287.3,151.7 L287.0,155.1 L293.8,154.4 L292.7,158.2 L298.7,158.0 L298.6,161.3 L305.2,160.8 L303.8,164.8 L310.2,164.4 L310.0,167.6 L316.4,167.3 L316.0,170.7 L321.9,170.5 L320.8,174.4 L326.9,174.1 L326.5,177.5 L333.1,177.0 L333.0,180.3 L337.7,180.9 L337.5,184.2 L343.4,184.0 L343.1,187.4 L349.3,187.1 L349.2,190.3 M256.6,133.8 L262.1,133.9 L262.4,136.9 L268.2,136.8 L268.2,140.0 L274.6,139.6 L274.0,143.2 L279.6,143.2 L279.5,146.5 L285.4,146.3 L284.3,150.2 L291.3,149.4 L290.9,152.8 L296.9,152.6 L296.5,156.1 L301.8,156.3 L301.5,159.6 L307.0,159.8 L307.5,162.7 L312.5,163.1 L312.2,166.4 L318.3,166.2 L318.0,169.6 L324.1,169.3 L323.4,172.9 L329.2,172.8 L329.1,176.1 L334.9,176.0 L335.0,179.1 L340.4,179.3 L341.4,182.0 L346.8,182.1 L345.9,185.8 L351.9,185.6 L351.8,188.9 M259.7,132.0 L265.2,132.1 L266.0,134.9 L270.9,135.3 L271.0,138.4 L276.5,138.6 L276.0,142.0 L281.9,141.9 L282.0,145.0 L287.6,145.1 L288.3,147.9 L293.2,148.3 L292.7,151.8 L298.8,151.6 L299.0,154.6 L304.3,154.8 L304.7,157.9 L309.7,158.2 L310.2,161.1 L315.6,161.3 L316.3,164.1 L321.2,164.5 L321.0,167.8 L326.8,167.8 L326.5,171.2 L332.4,171.0 L332.6,174.1 L338.0,174.3 L337.9,177.5 L343.5,177.5 L344.2,180.4 L349.1,180.8 L349.8,183.6 L354.7,184.0 L355.4,186.9 M247.5,138.4 L253.9,138.7 L253.5,135.2 L258.9,135.0 L258.8,131.6 L265.1,132.0 M250.8,140.3 L257.0,140.6 L256.2,136.8 L262.8,137.3 L262.8,134.0 L268.6,134.0 M253.7,142.0 L259.5,142.0 L259.4,138.7 L265.3,138.7 L265.9,135.8 L272.2,136.1 M258.5,144.7 L264.6,145.0 L264.8,141.8 L269.5,141.2 L270.4,138.3 L276.6,138.7 M262.2,146.9 L267.7,146.8 L267.1,143.1 L274.0,143.8 L273.2,140.0 L279.8,140.5 M265.5,148.8 L271.4,148.9 L272.2,146.0 L277.7,145.9 L276.7,142.1 L282.5,142.1 M268.1,150.3 L273.8,150.3 L272.7,146.4 L279.7,147.1 L279.8,143.9 L285.2,143.6 M271.4,152.2 L276.6,151.9 L276.3,148.5 L283.7,149.4 L283.2,145.8 L288.8,145.8 M275.8,154.8 L282.4,155.3 L282.2,151.9 L287.1,151.4 L287.1,148.1 L293.1,148.2 M278.1,156.2 L283.5,155.9 L283.7,152.7 L289.1,152.5 L290.2,149.9 L295.2,149.5 M282.0,158.4 L288.4,158.8 L287.5,155.0 L294.2,155.5 L293.5,151.8 L299.4,151.9 M284.7,160.0 L291.2,160.4 L290.7,156.8 L296.3,156.8 L297.5,154.1 L302.4,153.6 M289.1,162.6 L294.8,162.5 L294.3,158.9 L300.5,159.2 L300.5,155.8 L306.7,156.1 M291.6,164.0 L297.0,163.8 L297.0,160.4 L303.6,161.0 L303.1,157.4 L309.1,157.5 M296.9,167.1 L302.0,166.7 L302.2,163.5 L307.9,163.5 L307.9,160.1 L314.0,160.4 M299.1,168.4 L304.9,168.4 L305.6,165.5 L311.1,165.3 L311.3,162.1 L317.3,162.3 M302.2,170.2 L308.7,170.6 L308.5,167.1 L313.3,166.6 L313.2,163.2 L319.5,163.6 M304.8,171.7 L310.4,171.6 L311.3,168.8 L317.4,169.0 L317.5,165.7 L322.2,165.1 M310.2,174.8 L315.3,174.4 L316.4,171.7 L322.4,171.9 L321.1,167.8 L328.1,168.6 M312.8,176.3 L319.4,176.8 L319.1,173.3 L323.9,172.8 L324.3,169.7 L330.3,169.8 M315.6,177.9 L321.7,178.1 L322.3,175.1 L327.0,174.6 L327.8,171.7 L333.5,171.7 M318.6,179.7 L325.0,180.0 L324.7,176.6 L329.9,176.3 L331.3,173.7 L336.8,173.6 M323.6,182.6 L329.7,182.8 L329.3,179.2 L336.4,180.0 L335.5,176.2 L341.1,176.1 M327.3,184.7 L333.0,184.7 L332.0,180.8 L337.7,180.8 L338.9,178.1 L344.2,177.9 M330.0,186.3 L335.8,186.3 L336.7,183.5 L342.2,183.4 L341.5,179.7 L348.8,180.6 M334.4,188.8 L339.1,188.3 L340.3,185.6 L344.9,185.0 L346.1,182.3 L351.3,182.0 M336.9,190.3 L343.3,190.7 L342.2,186.7 L347.9,186.7 L348.4,183.7 L353.8,183.5 M339.2,191.7 L344.9,191.6 L345.1,188.4 L351.1,188.6 L351.1,185.2 L357.7,185.7"/></g>
<g class="o"><path class="d" d="M261.2,128.9 L360.2,186.4"/></g>
<g>
<clipPath id="ra"><path d="M331.0,87.8 L337.0,86.0 L341.0,87.0 L344.0,89.8 L349.0,91.0 L353.0,94.0 L357.0,95.5 L361.0,98.8 L366.0,100.5 L370.0,103.5 L375.0,105.0 L379.0,108.5 L384.0,111.0 L386.5,114.0 L386.5,117.5 L384.5,120.5 L366.0,129.5 L364.0,125.5 L356.0,124.0 L354.0,120.0 L347.0,118.5 L345.0,114.5 L337.0,112.5 L336.0,108.5 L328.0,107.0 L327.0,103.0 L320.0,102.0 L317.3,98.3 L322.0,94.0Z"/></clipPath>
<path d="M331.0,87.8 L337.0,86.0 L341.0,87.0 L344.0,89.8 L349.0,91.0 L353.0,94.0 L357.0,95.5 L361.0,98.8 L366.0,100.5 L370.0,103.5 L375.0,105.0 L379.0,108.5 L384.0,111.0 L386.5,114.0 L386.5,117.5 L384.5,120.5 L366.0,129.5 L364.0,125.5 L356.0,124.0 L354.0,120.0 L347.0,118.5 L345.0,114.5 L337.0,112.5 L336.0,108.5 L328.0,107.0 L327.0,103.0 L320.0,102.0 L317.3,98.3 L322.0,94.0Z" style="fill:#fff;stroke:#454545;stroke-width:1.1"/>
<path clip-path="url(#ra)" d="M323.2,87.1L386.2,120.1 M320.4,89.3L383.4,122.3 M317.6,91.5L380.6,124.5 M314.8,93.7L377.8,126.7 M320.2,76.3L297.8,93.9 M320.2,76.3L302.8,96.6 M325.2,79.0L302.8,96.6 M325.2,79.0L307.8,99.2 M330.2,81.6L307.8,99.2 M330.2,81.6L312.8,101.8 M335.2,84.2L312.8,101.8 M335.2,84.2L317.8,104.4 M340.2,86.8L317.8,104.4 M340.2,86.8L322.8,107.0 M345.2,89.4L322.8,107.0 M345.2,89.4L327.8,109.7 M350.2,92.1L327.8,109.7 M350.2,92.1L332.8,112.3 M355.2,94.7L332.8,112.3 M355.2,94.7L337.8,114.9 M360.2,97.3L337.8,114.9 M360.2,97.3L342.8,117.5 M365.2,99.9L342.8,117.5 M365.2,99.9L347.8,120.1 M370.2,102.5L347.8,120.1 M370.2,102.5L352.8,122.8 M375.2,105.2L352.8,122.8 M375.2,105.2L357.8,125.4 M380.2,107.8L357.8,125.4 M380.2,107.8L362.8,128.0 M385.2,110.4L362.8,128.0 M385.2,110.4L367.8,130.6 M390.2,113.0L367.8,130.6 M390.2,113.0L372.8,133.2 M395.2,115.6L372.8,133.2 M395.2,115.6L377.8,135.8 M400.2,118.2L377.8,135.8 M400.2,118.2L382.8,138.5" style="fill:none;stroke:#5a5a5a;stroke-width:.8"/>
<path d="M331.0,87.8 L337.0,86.0 L341.0,87.0 L344.0,89.8 L349.0,91.0 L353.0,94.0 L357.0,95.5 L361.0,98.8 L366.0,100.5 L370.0,103.5 L375.0,105.0 L379.0,108.5 L384.0,111.0 L386.5,114.0 L386.5,117.5 L384.5,120.5 L366.0,129.5 L364.0,125.5 L356.0,124.0 L354.0,120.0 L347.0,118.5 L345.0,114.5 L337.0,112.5 L336.0,108.5 L328.0,107.0 L327.0,103.0 L320.0,102.0 L317.3,98.3 L322.0,94.0Z" style="fill:none;stroke:#888;stroke-width:2.6" clip-path="url(#ra)"/>
<path d="M331.0,87.8 L337.0,86.0 L341.0,87.0 L344.0,89.8 L349.0,91.0 L353.0,94.0 L357.0,95.5 L361.0,98.8 L366.0,100.5 L370.0,103.5 L375.0,105.0 L379.0,108.5 L384.0,111.0 L386.5,114.0 L386.5,117.5 L384.5,120.5 L366.0,129.5 L364.0,125.5 L356.0,124.0 L354.0,120.0 L347.0,118.5 L345.0,114.5 L337.0,112.5 L336.0,108.5 L328.0,107.0 L327.0,103.0 L320.0,102.0 L317.3,98.3 L322.0,94.0Z" style="fill:none;stroke:#3a3a3a;stroke-width:1"/>
<clipPath id="rb"><path d="M388.5,120.8 L394.5,119.0 L398.5,120.0 L401.5,122.8 L406.5,124.0 L410.5,127.0 L414.5,128.5 L418.5,131.8 L423.5,133.5 L427.5,136.5 L432.5,138.0 L436.5,141.5 L441.5,144.0 L444.0,147.0 L444.0,150.5 L442.0,153.5 L423.5,162.5 L421.5,158.5 L413.5,157.0 L411.5,153.0 L404.5,151.5 L402.5,147.5 L394.5,145.5 L393.5,141.5 L385.5,140.0 L384.5,136.0 L377.5,135.0 L374.8,131.3 L379.5,127.0Z"/></clipPath>
<path d="M388.5,120.8 L394.5,119.0 L398.5,120.0 L401.5,122.8 L406.5,124.0 L410.5,127.0 L414.5,128.5 L418.5,131.8 L423.5,133.5 L427.5,136.5 L432.5,138.0 L436.5,141.5 L441.5,144.0 L444.0,147.0 L444.0,150.5 L442.0,153.5 L423.5,162.5 L421.5,158.5 L413.5,157.0 L411.5,153.0 L404.5,151.5 L402.5,147.5 L394.5,145.5 L393.5,141.5 L385.5,140.0 L384.5,136.0 L377.5,135.0 L374.8,131.3 L379.5,127.0Z" style="fill:#fff;stroke:#454545;stroke-width:1.1"/>
<path clip-path="url(#rb)" d="M380.7,120.1L443.7,153.1 M377.9,122.3L440.9,155.3 M375.1,124.5L438.1,157.5 M372.3,126.7L435.3,159.7 M377.7,109.3L355.3,126.9 M377.7,109.3L360.3,129.6 M382.7,112.0L360.3,129.6 M382.7,112.0L365.3,132.2 M387.7,114.6L365.3,132.2 M387.7,114.6L370.3,134.8 M392.7,117.2L370.3,134.8 M392.7,117.2L375.3,137.4 M397.7,119.8L375.3,137.4 M397.7,119.8L380.3,140.0 M402.7,122.4L380.3,140.0 M402.7,122.4L385.3,142.7 M407.7,125.1L385.3,142.7 M407.7,125.1L390.3,145.3 M412.7,127.7L390.3,145.3 M412.7,127.7L395.3,147.9 M417.7,130.3L395.3,147.9 M417.7,130.3L400.3,150.5 M422.7,132.9L400.3,150.5 M422.7,132.9L405.3,153.1 M427.7,135.5L405.3,153.1 M427.7,135.5L410.3,155.8 M432.7,138.2L410.3,155.8 M432.7,138.2L415.3,158.4 M437.7,140.8L415.3,158.4 M437.7,140.8L420.3,161.0 M442.7,143.4L420.3,161.0 M442.7,143.4L425.3,163.6 M447.7,146.0L425.3,163.6 M447.7,146.0L430.3,166.2 M452.7,148.6L430.3,166.2 M452.7,148.6L435.3,168.8 M457.7,151.2L435.3,168.8 M457.7,151.2L440.3,171.5" style="fill:none;stroke:#5a5a5a;stroke-width:.8"/>
<path d="M388.5,120.8 L394.5,119.0 L398.5,120.0 L401.5,122.8 L406.5,124.0 L410.5,127.0 L414.5,128.5 L418.5,131.8 L423.5,133.5 L427.5,136.5 L432.5,138.0 L436.5,141.5 L441.5,144.0 L444.0,147.0 L444.0,150.5 L442.0,153.5 L423.5,162.5 L421.5,158.5 L413.5,157.0 L411.5,153.0 L404.5,151.5 L402.5,147.5 L394.5,145.5 L393.5,141.5 L385.5,140.0 L384.5,136.0 L377.5,135.0 L374.8,131.3 L379.5,127.0Z" style="fill:none;stroke:#888;stroke-width:2.6" clip-path="url(#rb)"/>
<path d="M388.5,120.8 L394.5,119.0 L398.5,120.0 L401.5,122.8 L406.5,124.0 L410.5,127.0 L414.5,128.5 L418.5,131.8 L423.5,133.5 L427.5,136.5 L432.5,138.0 L436.5,141.5 L441.5,144.0 L444.0,147.0 L444.0,150.5 L442.0,153.5 L423.5,162.5 L421.5,158.5 L413.5,157.0 L411.5,153.0 L404.5,151.5 L402.5,147.5 L394.5,145.5 L393.5,141.5 L385.5,140.0 L384.5,136.0 L377.5,135.0 L374.8,131.3 L379.5,127.0Z" style="fill:none;stroke:#3a3a3a;stroke-width:1"/>
</g>
<g class="tn"><path d="M535.4,134.5L537.0,148.0 M539.0,136.6L540.6,150.1 M542.7,138.6L544.3,152.1 M546.3,140.7L548.0,154.2 M550.0,142.8L551.6,156.2 M553.6,144.8L555.2,158.2 M557.2,146.9L558.9,160.3 M560.9,149.0L562.5,162.3 M564.5,151.1L566.2,164.4 M568.2,153.1L569.9,166.4 M571.8,155.2L573.5,168.5 M537.0,148.0L573.5,168.5 M534.0,148.0L576.5,172.0 M523.7,140.9L525.5,153.5 M527.4,143.0L529.1,155.6 M531.0,145.0L532.8,157.7 M534.7,147.1L536.5,159.8 M538.3,149.1L540.1,161.9 M542.0,151.2L543.8,164.0 M545.7,153.3L547.4,166.1 M549.3,155.3L551.0,168.2 M553.0,157.4L554.7,170.3 M556.6,159.4L558.4,172.4 M560.3,161.5L562.0,174.5 M525.5,153.5L562.0,174.5 M519.0,152.5L565.8,178.5 M519.0,152.5L523.0,151.0"/></g>
<g class="tn2"><path d="M549.9,348.0L550.7,353.5L548.5,356.0L551.0,360.0L557.7,367.1L646.0,317.5L649.5,315.0 M559.1,365.8L557.5,353.1 M562.6,363.8L561.0,351.1 M566.2,361.8L564.6,349.1 M569.7,359.9L568.1,347.2 M573.2,357.9L571.6,345.2 M576.8,355.9L575.2,343.2 M580.3,353.9L578.7,341.2 M583.8,351.9L582.2,339.2 M587.4,349.9L585.8,337.2 M590.9,348.0L589.3,335.3 M594.4,346.0L592.8,333.3 M598.0,344.0L596.4,331.3 M601.5,342.0L599.9,329.3 M605.0,340.0L603.4,327.3 M608.6,338.0L607.0,325.3 M612.1,336.0L610.5,323.3 M615.6,334.1L616.8,321.4 M619.2,332.1L620.4,319.0 M622.7,330.1L623.9,316.7 M626.2,328.1L627.4,314.3 M629.8,326.1L631.0,311.9 M633.3,324.1L634.5,309.5 M636.8,322.2L638.0,307.2 M640.3,320.2L641.5,304.8 M643.9,318.2L645.1,302.4 M574.9,362.0L575.0,367.0L573.7,369.5L576.0,373.5L582.9,381.2L673.6,329.2L677.1,326.7 M584.3,379.9L582.7,367.2 M587.8,377.9L586.2,365.2 M591.3,375.9L589.7,363.2 M594.8,373.9L593.2,361.2 M598.2,371.9L596.6,359.2 M601.7,369.9L600.1,357.2 M605.2,367.9L603.6,355.2 M608.7,365.9L607.1,353.2 M612.2,363.9L610.6,351.2 M615.7,361.9L614.1,349.2 M619.2,359.9L617.6,347.2 M622.7,357.9L621.1,345.2 M626.2,355.9L624.6,343.2 M629.6,353.9L628.0,341.2 M633.1,351.9L631.5,339.2 M636.6,349.9L635.0,337.2 M640.1,347.9L638.5,335.2 M643.6,345.9L644.8,333.3 M647.1,343.9L648.3,330.9 M650.6,341.9L651.8,328.5 M654.1,339.9L655.3,326.1 M657.6,337.9L658.8,323.7 M661.0,335.9L662.2,321.3 M664.5,333.9L665.7,318.9 M668.0,331.9L669.2,316.5 M671.5,329.9L672.7,314.1"/></g>
<g class="o cb">
<path d="M704.4,404.5L716.2,410.5L716.2,421.0L704.4,415.0Z" style="fill:#505050;stroke:#333"/>
<path d="M705.4,406.3L707.4,407.3L707.4,409.9L705.4,408.9ZM705.4,411.6L707.4,412.6L707.4,415.2L705.4,414.2ZM709.3,408.3L711.3,409.3L711.3,411.9L709.3,410.9ZM709.3,413.6L711.3,414.6L711.3,417.2L709.3,416.2ZM713.2,410.3L715.2,411.3L715.2,413.9L713.2,412.9ZM713.2,415.6L715.2,416.6L715.2,419.2L713.2,418.2Z" style="fill:#e8e8e8;stroke:none"/>
<path d="M717.9,411.0L737.2,422.5L737.2,432.0L717.9,421.0Z" style="fill:#505050;stroke:#333"/>
<path d="M718.9,412.8L720.8,414.0L720.8,416.4L718.9,415.3ZM718.9,417.8L720.8,418.9L720.8,421.4L718.9,420.3ZM722.7,415.1L724.7,416.3L724.7,418.7L722.7,417.6ZM722.7,420.0L724.7,421.2L724.7,423.6L722.7,422.5ZM726.6,417.4L728.5,418.5L728.5,421.0L726.6,419.8ZM726.6,422.3L728.5,423.4L728.5,425.8L726.6,424.7ZM730.4,419.7L732.4,420.8L732.4,423.2L730.4,422.1ZM730.4,424.5L732.4,425.6L732.4,428.0L730.4,426.9ZM734.3,422.0L736.2,423.1L736.2,425.5L734.3,424.4ZM734.3,426.8L736.2,427.9L736.2,430.3L734.3,429.2Z" style="fill:#e8e8e8;stroke:none"/>
<path d="M738.0,422.0L749.8,429.0L749.8,445.0L738.0,438.0Z" style="fill:#505050;stroke:#333"/>
<path d="M739.5,423.9L742.4,425.6L742.4,427.6L739.5,425.9ZM739.5,427.9L742.4,429.6L742.4,431.6L739.5,429.9ZM739.5,431.9L742.4,433.6L742.4,435.6L739.5,433.9ZM739.5,435.9L742.4,437.6L742.4,439.6L739.5,437.9ZM745.4,427.4L748.3,429.1L748.3,431.1L745.4,429.4ZM745.4,431.4L748.3,433.1L748.3,435.1L745.4,433.4ZM745.4,435.4L748.3,437.1L748.3,439.1L745.4,437.4ZM745.4,439.4L748.3,441.1L748.3,443.1L745.4,441.4Z" style="fill:#e8e8e8;stroke:none"/>
<path d="M676.7,437.8 L705.2,421.0 L748.9,445.3 L720.4,462.1Z" style="fill:#6c6c6c;stroke:#444"/>
<path d="M679.3,437.9a1.2,.9 0 1,0 2.4,0a1.2,.9 0 1,0 -2.4,0M682.8,435.8a1.2,.9 0 1,0 2.4,0a1.2,.9 0 1,0 -2.4,0M686.4,433.7a1.2,.9 0 1,0 2.4,0a1.2,.9 0 1,0 -2.4,0M690.0,431.6a1.2,.9 0 1,0 2.4,0a1.2,.9 0 1,0 -2.4,0M693.5,429.5a1.2,.9 0 1,0 2.4,0a1.2,.9 0 1,0 -2.4,0M697.1,427.4a1.2,.9 0 1,0 2.4,0a1.2,.9 0 1,0 -2.4,0M700.6,425.3a1.2,.9 0 1,0 2.4,0a1.2,.9 0 1,0 -2.4,0M704.2,423.2a1.2,.9 0 1,0 2.4,0a1.2,.9 0 1,0 -2.4,0M683.2,440.1a1.2,.9 0 1,0 2.4,0a1.2,.9 0 1,0 -2.4,0M686.8,438.0a1.2,.9 0 1,0 2.4,0a1.2,.9 0 1,0 -2.4,0M690.4,435.9a1.2,.9 0 1,0 2.4,0a1.2,.9 0 1,0 -2.4,0M693.9,433.8a1.2,.9 0 1,0 2.4,0a1.2,.9 0 1,0 -2.4,0M697.5,431.7a1.2,.9 0 1,0 2.4,0a1.2,.9 0 1,0 -2.4,0M701.1,429.6a1.2,.9 0 1,0 2.4,0a1.2,.9 0 1,0 -2.4,0M704.6,427.5a1.2,.9 0 1,0 2.4,0a1.2,.9 0 1,0 -2.4,0M708.2,425.4a1.2,.9 0 1,0 2.4,0a1.2,.9 0 1,0 -2.4,0M687.2,442.3a1.2,.9 0 1,0 2.4,0a1.2,.9 0 1,0 -2.4,0M690.8,440.2a1.2,.9 0 1,0 2.4,0a1.2,.9 0 1,0 -2.4,0M694.3,438.1a1.2,.9 0 1,0 2.4,0a1.2,.9 0 1,0 -2.4,0M697.9,436.0a1.2,.9 0 1,0 2.4,0a1.2,.9 0 1,0 -2.4,0M701.5,433.9a1.2,.9 0 1,0 2.4,0a1.2,.9 0 1,0 -2.4,0M705.0,431.8a1.2,.9 0 1,0 2.4,0a1.2,.9 0 1,0 -2.4,0M708.6,429.7a1.2,.9 0 1,0 2.4,0a1.2,.9 0 1,0 -2.4,0M712.2,427.6a1.2,.9 0 1,0 2.4,0a1.2,.9 0 1,0 -2.4,0M691.2,444.5a1.2,.9 0 1,0 2.4,0a1.2,.9 0 1,0 -2.4,0M694.7,442.4a1.2,.9 0 1,0 2.4,0a1.2,.9 0 1,0 -2.4,0M698.3,440.3a1.2,.9 0 1,0 2.4,0a1.2,.9 0 1,0 -2.4,0M701.9,438.2a1.2,.9 0 1,0 2.4,0a1.2,.9 0 1,0 -2.4,0M705.4,436.1a1.2,.9 0 1,0 2.4,0a1.2,.9 0 1,0 -2.4,0M709.0,434.0a1.2,.9 0 1,0 2.4,0a1.2,.9 0 1,0 -2.4,0M712.6,431.9a1.2,.9 0 1,0 2.4,0a1.2,.9 0 1,0 -2.4,0M716.1,429.8a1.2,.9 0 1,0 2.4,0a1.2,.9 0 1,0 -2.4,0M695.2,446.7a1.2,.9 0 1,0 2.4,0a1.2,.9 0 1,0 -2.4,0M698.7,444.6a1.2,.9 0 1,0 2.4,0a1.2,.9 0 1,0 -2.4,0M702.3,442.5a1.2,.9 0 1,0 2.4,0a1.2,.9 0 1,0 -2.4,0M705.8,440.4a1.2,.9 0 1,0 2.4,0a1.2,.9 0 1,0 -2.4,0M709.4,438.3a1.2,.9 0 1,0 2.4,0a1.2,.9 0 1,0 -2.4,0M713.0,436.2a1.2,.9 0 1,0 2.4,0a1.2,.9 0 1,0 -2.4,0M716.5,434.1a1.2,.9 0 1,0 2.4,0a1.2,.9 0 1,0 -2.4,0M720.1,432.0a1.2,.9 0 1,0 2.4,0a1.2,.9 0 1,0 -2.4,0M699.1,448.9a1.2,.9 0 1,0 2.4,0a1.2,.9 0 1,0 -2.4,0M702.7,446.8a1.2,.9 0 1,0 2.4,0a1.2,.9 0 1,0 -2.4,0M706.3,444.7a1.2,.9 0 1,0 2.4,0a1.2,.9 0 1,0 -2.4,0M709.8,442.6a1.2,.9 0 1,0 2.4,0a1.2,.9 0 1,0 -2.4,0M713.4,440.5a1.2,.9 0 1,0 2.4,0a1.2,.9 0 1,0 -2.4,0M716.9,438.4a1.2,.9 0 1,0 2.4,0a1.2,.9 0 1,0 -2.4,0M720.5,436.3a1.2,.9 0 1,0 2.4,0a1.2,.9 0 1,0 -2.4,0M724.1,434.2a1.2,.9 0 1,0 2.4,0a1.2,.9 0 1,0 -2.4,0M703.1,451.1a1.2,.9 0 1,0 2.4,0a1.2,.9 0 1,0 -2.4,0M706.7,449.0a1.2,.9 0 1,0 2.4,0a1.2,.9 0 1,0 -2.4,0M710.2,446.9a1.2,.9 0 1,0 2.4,0a1.2,.9 0 1,0 -2.4,0M713.8,444.8a1.2,.9 0 1,0 2.4,0a1.2,.9 0 1,0 -2.4,0M717.4,442.7a1.2,.9 0 1,0 2.4,0a1.2,.9 0 1,0 -2.4,0M720.9,440.6a1.2,.9 0 1,0 2.4,0a1.2,.9 0 1,0 -2.4,0M724.5,438.5a1.2,.9 0 1,0 2.4,0a1.2,.9 0 1,0 -2.4,0M728.0,436.4a1.2,.9 0 1,0 2.4,0a1.2,.9 0 1,0 -2.4,0M707.1,453.3a1.2,.9 0 1,0 2.4,0a1.2,.9 0 1,0 -2.4,0M710.6,451.2a1.2,.9 0 1,0 2.4,0a1.2,.9 0 1,0 -2.4,0M714.2,449.1a1.2,.9 0 1,0 2.4,0a1.2,.9 0 1,0 -2.4,0M717.8,447.0a1.2,.9 0 1,0 2.4,0a1.2,.9 0 1,0 -2.4,0M721.3,444.9a1.2,.9 0 1,0 2.4,0a1.2,.9 0 1,0 -2.4,0M724.9,442.8a1.2,.9 0 1,0 2.4,0a1.2,.9 0 1,0 -2.4,0M728.5,440.7a1.2,.9 0 1,0 2.4,0a1.2,.9 0 1,0 -2.4,0M732.0,438.6a1.2,.9 0 1,0 2.4,0a1.2,.9 0 1,0 -2.4,0M711.0,455.5a1.2,.9 0 1,0 2.4,0a1.2,.9 0 1,0 -2.4,0M714.6,453.4a1.2,.9 0 1,0 2.4,0a1.2,.9 0 1,0 -2.4,0M718.2,451.3a1.2,.9 0 1,0 2.4,0a1.2,.9 0 1,0 -2.4,0M721.7,449.2a1.2,.9 0 1,0 2.4,0a1.2,.9 0 1,0 -2.4,0M725.3,447.1a1.2,.9 0 1,0 2.4,0a1.2,.9 0 1,0 -2.4,0M728.9,445.0a1.2,.9 0 1,0 2.4,0a1.2,.9 0 1,0 -2.4,0M732.4,442.9a1.2,.9 0 1,0 2.4,0a1.2,.9 0 1,0 -2.4,0M736.0,440.8a1.2,.9 0 1,0 2.4,0a1.2,.9 0 1,0 -2.4,0M715.0,457.7a1.2,.9 0 1,0 2.4,0a1.2,.9 0 1,0 -2.4,0M718.6,455.6a1.2,.9 0 1,0 2.4,0a1.2,.9 0 1,0 -2.4,0M722.1,453.5a1.2,.9 0 1,0 2.4,0a1.2,.9 0 1,0 -2.4,0M725.7,451.4a1.2,.9 0 1,0 2.4,0a1.2,.9 0 1,0 -2.4,0M729.3,449.3a1.2,.9 0 1,0 2.4,0a1.2,.9 0 1,0 -2.4,0M732.8,447.2a1.2,.9 0 1,0 2.4,0a1.2,.9 0 1,0 -2.4,0M736.4,445.1a1.2,.9 0 1,0 2.4,0a1.2,.9 0 1,0 -2.4,0M740.0,443.0a1.2,.9 0 1,0 2.4,0a1.2,.9 0 1,0 -2.4,0M719.0,459.9a1.2,.9 0 1,0 2.4,0a1.2,.9 0 1,0 -2.4,0M722.6,457.8a1.2,.9 0 1,0 2.4,0a1.2,.9 0 1,0 -2.4,0M726.1,455.7a1.2,.9 0 1,0 2.4,0a1.2,.9 0 1,0 -2.4,0M729.7,453.6a1.2,.9 0 1,0 2.4,0a1.2,.9 0 1,0 -2.4,0M733.2,451.5a1.2,.9 0 1,0 2.4,0a1.2,.9 0 1,0 -2.4,0M736.8,449.4a1.2,.9 0 1,0 2.4,0a1.2,.9 0 1,0 -2.4,0M740.4,447.3a1.2,.9 0 1,0 2.4,0a1.2,.9 0 1,0 -2.4,0M743.9,445.2a1.2,.9 0 1,0 2.4,0a1.2,.9 0 1,0 -2.4,0" style="fill:#ddd;stroke:none"/>
<path d="M693.6,425 L706,419.5 L733,435 L733,447 L718,448 L693.6,433 Z" style="fill:#cfcfcf;stroke:#444;stroke-width:.8"/>
<path d="M706,419.5 L706,428 L733,444 M706,428 L694,434 M700,424 L700,431 M712,423 L712,432 M718,426.5 L718,436 M724,430 L724,439.5 M729,433 L729,442.5" style="fill:none;stroke:#888;stroke-width:.6"/>
<path d="M676.7,437.8 L720.4,462.1 L718.7,488.1 L677.6,466.3Z" style="fill:#f2f2f2;stroke:#555"/>
<path d="M676.8,441.6L720.2,465.5 M676.9,444.2L720.0,467.9 M677.0,446.8L719.9,470.3 M677.1,449.4L719.7,472.7 M677.2,452.1L719.5,475.1 M677.2,454.7L719.4,477.5 M677.3,457.3L719.2,479.9 M677.4,459.9L719.1,482.3 M677.5,462.5L718.9,484.7" style="fill:none;stroke:#6a6a6a;stroke-width:1.1"/>
<path d="M680.3,439.8L681.0,468.1 M684.0,441.9L684.5,469.9 M687.6,443.9L687.9,471.8 M691.3,445.9L691.3,473.6 M694.9,447.9L694.7,475.4 M698.5,450.0L698.2,477.2 M702.2,452.0L701.6,479.0 M705.8,454.0L705.0,480.8 M709.5,456.0L708.4,482.7 M713.1,458.1L711.9,484.5 M716.8,460.1L715.3,486.3" style="fill:none;stroke:#999;stroke-width:.6"/>
<path d="M720.4,462.1 L748.9,445.3 L747.2,473.9 L718.7,488.1Z" style="fill:#f2f2f2;stroke:#555"/>
<path d="M720.2,465.5L748.7,449.1 M720.0,467.9L748.5,451.7 M719.9,470.3L748.4,454.3 M719.7,472.7L748.2,457.0 M719.5,475.1L748.0,459.6 M719.4,477.5L747.9,462.2 M719.2,479.9L747.7,464.9 M719.1,482.3L747.6,467.5 M718.9,484.7L747.4,470.1" style="fill:none;stroke:#6a6a6a;stroke-width:1.1"/>
<path d="M724.5,459.7L722.8,486.1 M728.5,457.3L726.8,484.0 M732.6,454.9L730.9,482.0 M736.7,452.5L735.0,480.0 M740.8,450.1L739.1,478.0 M744.8,447.7L743.1,475.9" style="fill:none;stroke:#999;stroke-width:.6"/>
<path d="M677.6,466.3L677.6,469.0L718.7,491.0L747.2,476.5L747.2,473.9" style="fill:none;stroke:#555"/>
<path class="f" d="M688.3,437 L688.3,413.5 Q688.5,408.5 693.5,408 Q697,408 700,409.5 L733,427.5 Q737.5,430 737.5,435 L737.5,456 L733.5,458 L733.5,436 Q733.5,433 730.5,431.5 L698,414 Q695,412.5 693.5,413 Q692.3,413.5 692.3,416 L692.3,439 Z" style="fill:#fafafa;stroke:#444"/>
</g>

<g class="L">
<polyline points="352.5,76.3 352.5,94.3"/>
<polyline points="405.5,106.7 405.5,122.6"/>
<polyline points="280.5,115.2 280.5,132.2"/>
<polyline points="111.5,128.5 98.5,128.5 98.5,145.8"/>
<polyline points="128.5,134.7 128.5,187.5 141.5,187.5"/>
<polyline points="172.5,188.0 172.5,191.5 160.0,191.5"/>
<polyline points="160.6,231.5 171.5,231.5 171.5,237.4"/>
<polyline points="171.5,251.0 171.5,275.5 160.6,275.5"/>
<polyline points="506.0,121.5 500.5,121.5 500.5,140.0"/>
<polyline points="517.5,127.7 517.5,131.5"/>
<polyline points="584.0,162.5 575.5,162.5"/>
<polyline points="593.5,170.8 593.5,176.5 566.5,176.5"/>
<polyline points="561.5,267.2 561.5,271.5 548.1,271.5"/>
<polyline points="370.5,261.3 370.5,287.2"/>
<polyline points="657.0,304.5 648.3,304.5"/>
<polyline points="665.5,309.8 665.5,315.2"/>
<polyline points="174.5,322.4 174.5,333.9"/>
<polyline points="677.5,363.8 677.5,372.5 673.0,372.5"/>
<polyline points="111.5,356.9 111.5,366.0"/>
<polyline points="549.0,387.5 562.8,387.5"/>
<polyline points="536.5,372.8 536.5,382.0"/>
<polyline points="141.5,419.5 100.5,419.5 100.5,440.3"/>
<polyline points="100.5,457.0 100.5,480.5 141.5,480.5"/>
<polyline points="196.1,445.5 178.5,445.5"/>
<polyline points="655.5,451.6 655.5,455.5 673.4,455.5"/>
<polyline points="339.7,451.5 320.5,451.5 320.5,457.0"/>
<polyline points="320.5,468.3 320.5,481.0"/>
<polyline points="329.5,470.3 329.5,477.0"/>
<polyline points="566.5,500.0 566.5,504.5 542.2,504.5"/>
<polyline points="339.5,503.2 339.5,507.2"/>
<polyline points="346.1,514.5 349.5,514.5 349.5,496.9"/>
</g>
<g class="tx">
<text x="345.7" y="73.3">0650</text>
<text x="395.5" y="105.0">0650</text>
<text x="273.4" y="112.8">0651</text>
<text x="115.1" y="131.9">0601</text>
<text x="508.2" y="125.5">0644</text>
<text x="585.5" y="166.6">0645</text>
<text x="166.0" y="185.6">0602</text>
<text x="168.5" y="247.8">0603</text>
<text x="553.5" y="265.0">0622</text>
<text x="360.3" y="299.2">0640</text>
<text x="658.5" y="308.1">0626</text>
<text x="165.9" y="345.2">0604</text>
<text x="669.1" y="361.6">0624</text>
<text x="98.9" y="376.2">0605</text>
<text x="524.5" y="391.9">0628</text>
<text x="82.7" y="451.5">0611</text>
<text x="201.3" y="449.0">0610</text>
<text x="644.7" y="448.6">0660</text>
<text x="309.4" y="466.7">0620</text>
<text x="557.6" y="498.1">0622</text>
<text x="320.6" y="518.7">0621</text>
<text x="8" y="553.6" style="font-size:11.5px">58300000167033 aet 000 d 6/6</text>
</g>
</svg>
</body></html>
